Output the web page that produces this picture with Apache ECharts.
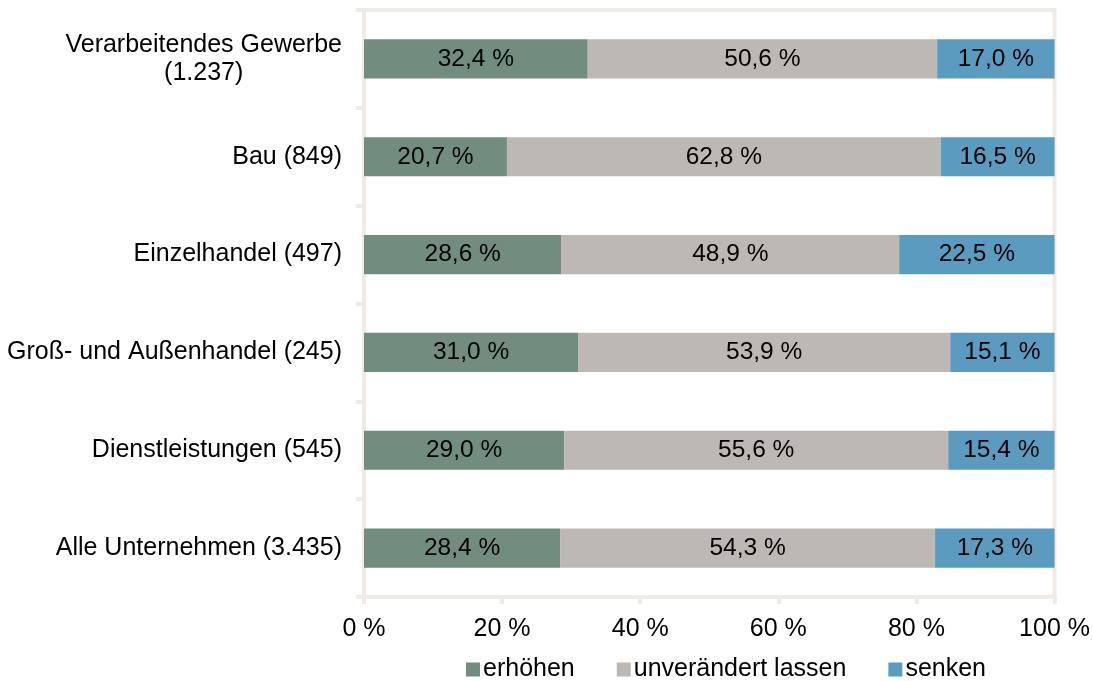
<!DOCTYPE html>
<html>
<head>
<meta charset="utf-8">
<script src="https://cdn.jsdelivr.net/npm/echarts@6/dist/echarts.min.js"></script>
<style>html,body{margin:0;padding:0;background:#fff;}#c{width:1093px;height:681px;}</style>
</head>
<body>
<div id="c"></div>
<script>
var categories = [
  "Verarbeitendes Gewerbe\n(1.237)",
  "Bau (849)",
  "Einzelhandel (497)",
  "Groß- und Außenhandel (245)",
  "Dienstleistungen (545)",
  "Alle Unternehmen (3.435)"
];
var seriesNames = ["erhöhen", "unverändert lassen", "senken"];
var erhoehen = [32.4, 20.7, 28.6, 31.0, 29.0, 28.4];
var unveraendert = [50.6, 62.8, 48.9, 53.9, 55.6, 54.3];
var senken = [17.0, 16.5, 22.5, 15.1, 15.4, 17.3];
var xTicks = ["0 %", "20 %", "40 %", "60 %", "80 %", "100 %"];

var FONT = "'Liberation Sans', Arial, Helvetica, sans-serif";
var FS = 25;
var colors = ["#728c7f", "#bdb8b4", "#5a9bbf"];
var lineColor = "#f0ebe7";

// center multi-line category labels
var ctx = document.createElement('canvas').getContext('2d');
ctx.font = FS + "px " + FONT;
var rich = {};
categories.forEach(function (c, i) {
  var lines = c.split('\n');
  var widths = lines.map(function (l) { return ctx.measureText(l).width; });
  var mx = Math.max.apply(null, widths);
  lines.forEach(function (l, j) {
    rich['c' + i + '_' + j] = {
      fontSize: FS, fontFamily: FONT, color: '#000', lineHeight: 28,
      padding: [0, (mx - widths[j]) / 2, 0, 0]
    };
  });
});

function fmt(p) { return p.value.toFixed(1).replace('.', ',') + ' %'; }

var dataSets = [erhoehen, unveraendert, senken];
var series = dataSets.map(function (d, k) {
  return {
    name: seriesNames[k],
    type: 'bar',
    stack: 'total',
    barWidth: '40%',
    itemStyle: { color: colors[k] },
    label: {
      show: true, position: 'inside', formatter: fmt,
      color: '#000', fontSize: 24.5, fontFamily: FONT
    },
    data: d
  };
});

var chart = echarts.init(document.getElementById('c'));
chart.setOption({
  animation: false,
  textStyle: { fontFamily: FONT },
  grid: {
    left: 364, right: 38, top: 10, bottom: 84,
    show: true, borderColor: lineColor, borderWidth: 4, backgroundColor: 'transparent'
  },
  legend: {
    left: 461, top: 652,
    itemWidth: 14, itemHeight: 14, itemGap: 42,
    icon: 'rect',
    textStyle: { fontSize: FS, fontFamily: FONT, color: '#000', padding: [0, 0, 0, -2] },
    data: seriesNames
  },
  xAxis: {
    type: 'value', min: 0, max: 100, interval: 20,
    axisLine: { show: true, lineStyle: { color: lineColor, width: 4 } },
    axisTick: { show: true, length: 7, lineStyle: { color: lineColor, width: 4 } },
    splitLine: { show: false },
    axisLabel: {
      margin: 20, fontSize: FS, fontFamily: FONT, color: '#000',
      formatter: function (v) { return xTicks[Math.round(v / 20)]; }
    }
  },
  yAxis: {
    type: 'category', inverse: true, data: categories,
    axisLine: { show: true, lineStyle: { color: lineColor, width: 4 } },
    axisTick: { show: true, length: 8, lineStyle: { color: lineColor, width: 4 } },
    axisLabel: {
      margin: 22, fontSize: FS, fontFamily: FONT, color: '#000',
      formatter: function (v, i) {
        return v.split('\n').map(function (l, j) { return '{c' + i + '_' + j + '|' + l + '}'; }).join('\n');
      },
      rich: rich
    }
  },
  series: series
});
</script>
</body>
</html>
